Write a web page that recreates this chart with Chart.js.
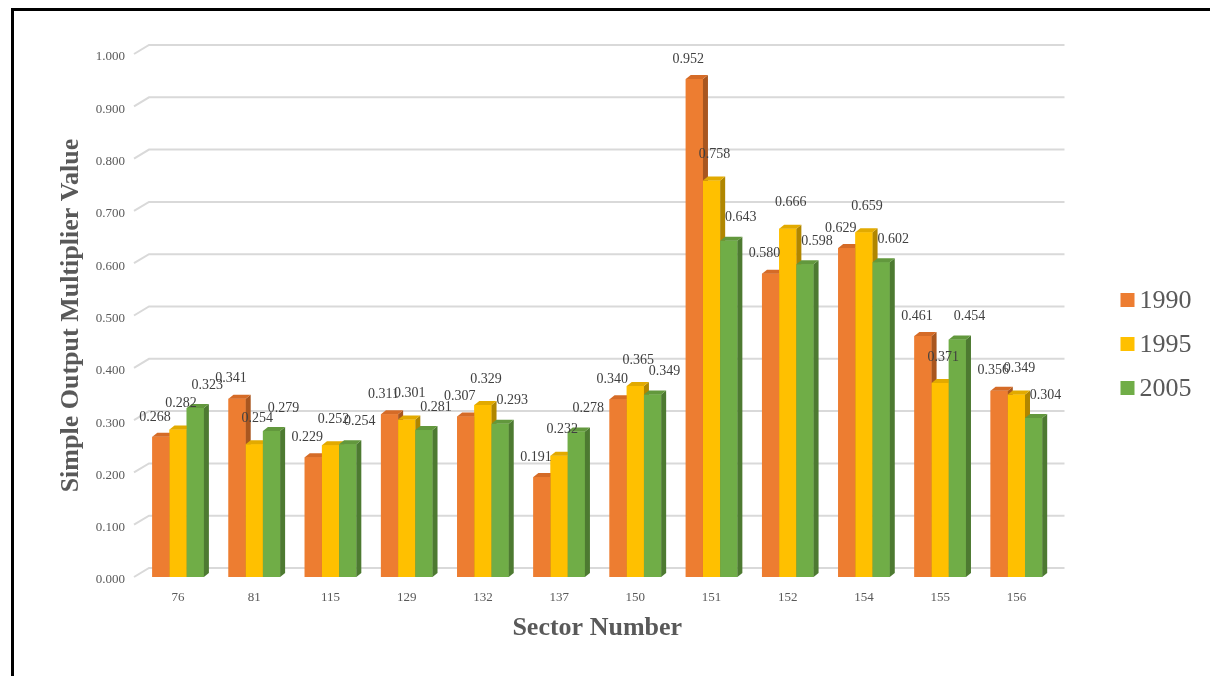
<!DOCTYPE html>
<html>
<head>
<meta charset="utf-8">
<script src="https://cdn.jsdelivr.net/npm/chart.js@4/dist/chart.umd.min.js"></script>
<style>
  html, body { margin: 0; padding: 0; background: #fff; }
  #wrap { position: relative; width: 1210px; height: 676px; overflow: hidden; }
  #frame { position: absolute; left: 11px; top: 8px; right: -10px; bottom: -10px;
    border-left: 3px solid #000; border-top: 3px solid #000; pointer-events: none; }
</style>
</head>
<body>
<div id="wrap">
  <canvas id="chart" width="1210" height="676"></canvas>
  <div id="frame"></div>
</div>
<script>
const sectors = ['76', '81', '115', '129', '132', '137', '150', '151', '152', '154', '155', '156'];
const mult1990 = [0.268, 0.341, 0.229, 0.311, 0.307, 0.191, 0.340, 0.952, 0.580, 0.629, 0.461, 0.356];
const mult1995 = [0.282, 0.254, 0.252, 0.301, 0.329, 0.232, 0.365, 0.758, 0.666, 0.659, 0.371, 0.349];
const mult2005 = [0.323, 0.279, 0.254, 0.281, 0.293, 0.278, 0.349, 0.643, 0.598, 0.602, 0.454, 0.304];
const seriesNames = ['1990', '1995', '2005'];

const serif = "'Liberation Serif', 'Times New Roman', serif";
const axisGrey = '#595959';

// front / top / side colours for the fake 3D columns
const shades = [
  { front: '#ED7D31', top: '#D56B27', side: '#A9561F' },
  { front: '#FFC000', top: '#E2AA00', side: '#B08600' },
  { front: '#70AD47', top: '#62983D', side: '#4D7A31' },
];
const depthX = 5, depthY = 4;
// label nudges per series (Excel's 3D label placement)
const labelNudge = [[-6, -20], [3, -26], [12, -23]];

// ── back-wall gridlines with the little floor bend on the left ──
const floorGrid = {
  id: 'floorGrid',
  beforeDatasetsDraw(chart) {
    const { ctx, chartArea } = chart;
    const y = chart.scales.y;
    ctx.save();
    ctx.strokeStyle = '#D9D9D9';
    ctx.lineWidth = 2;
    y.ticks.forEach(t => {
      const py = y.getPixelForValue(t.value);
      ctx.beginPath();
      ctx.moveTo(chartArea.left - 6, py);
      ctx.lineTo(chartArea.left + 9, py - 9);
      ctx.lineTo(chartArea.right + 10, py - 9);
      ctx.stroke();
    });
    ctx.restore();
  }
};

// ── side + top faces, then value labels ──
const columns3d = {
  id: 'columns3d',
  afterDatasetsDraw(chart) {
    const { ctx } = chart;
    const metas = chart.data.datasets.map((_, d) => chart.getDatasetMeta(d));
    ctx.save();
    for (let i = 0; i < chart.data.labels.length; i++) {
      metas.forEach((meta, d) => {
        const bar = meta.data[i];
        const { x, y, base, width } = bar.getProps(['x', 'y', 'base', 'width'], true);
        const l = x - width / 2, r = x + width / 2;
        const c = shades[d];
        ctx.fillStyle = c.front;
        ctx.fillRect(l, y, width, base - y);
        ctx.fillStyle = c.side;
        ctx.beginPath();
        ctx.moveTo(r, y); ctx.lineTo(r + depthX, y - depthY);
        ctx.lineTo(r + depthX, base - depthY); ctx.lineTo(r, base);
        ctx.closePath(); ctx.fill();
        ctx.fillStyle = c.top;
        ctx.beginPath();
        ctx.moveTo(l, y); ctx.lineTo(l + depthX, y - depthY);
        ctx.lineTo(r + depthX, y - depthY); ctx.lineTo(r, y);
        ctx.closePath(); ctx.fill();
      });
    }
    ctx.font = '14px ' + serif;
    ctx.fillStyle = '#404040';
    ctx.textAlign = 'center';
    ctx.textBaseline = 'middle';
    metas.forEach((meta, d) => {
      meta.data.forEach((bar, i) => {
        const v = chart.data.datasets[d].data[i];
        ctx.fillText(v.toFixed(3), bar.x + labelNudge[d][0], bar.y + labelNudge[d][1]);
      });
    });
    ctx.restore();
  }
};

// ── legend on the right ──
const sideLegend = {
  id: 'sideLegend',
  afterDraw(chart) {
    const { ctx, chartArea } = chart;
    const x0 = chartArea.right + 66;
    const midY = 344, gap = 44;
    ctx.save();
    ctx.font = '26px ' + serif;
    ctx.textAlign = 'left';
    ctx.textBaseline = 'middle';
    chart.data.datasets.forEach((ds, d) => {
      const cy = midY + (d - 1) * gap;
      ctx.fillStyle = ds.backgroundColor;
      ctx.fillRect(x0, cy - 7, 14, 14);
      ctx.fillStyle = axisGrey;
      ctx.fillText(ds.label, x0 + 19, cy + 1);
    });
    ctx.restore();
  }
};

const series = [mult1990, mult1995, mult2005];

new Chart(document.getElementById('chart'), {
  type: 'bar',
  data: {
    labels: sectors,
    datasets: series.map((vals, d) => ({
      label: seriesNames[d],
      data: vals,
      backgroundColor: shades[d].front,
      borderWidth: 0,
      barPercentage: 1.0,
      categoryPercentage: 0.677,
    }))
  },
  options: {
    responsive: false,
    animation: false,
    events: [],
    layout: { padding: { left: 52, right: 155.5, top: 54, bottom: 28.4 } },
    plugins: { legend: { display: false }, tooltip: { enabled: false } },
    scales: {
      x: {
        grid: { display: false, drawTicks: false },
        border: { display: false },
        ticks: { color: axisGrey, font: { size: 13, family: serif }, padding: 13, maxRotation: 0 },
        title: { display: true, text: 'Sector Number', color: axisGrey,
          font: { size: 26, weight: 'bold', family: serif }, padding: { top: 0, bottom: 4 } },
        afterFit: s => { s.height = 70.6; }
      },
      y: {
        min: 0, max: 1,
        grid: { display: false, drawTicks: false },
        border: { display: false },
        ticks: { stepSize: 0.1, color: axisGrey, font: { size: 13, family: serif }, padding: 15,
          labelOffset: 3, callback: v => Number(v).toFixed(3) },
        title: { display: true, text: 'Simple Output Multiplier Value', color: axisGrey,
          font: { size: 26, weight: 'bold', family: serif }, padding: { top: 4, bottom: 0 } },
        afterFit: s => { s.width = 88; }
      }
    }
  },
  plugins: [floorGrid, columns3d, sideLegend]
});
</script>
</body>
</html>
